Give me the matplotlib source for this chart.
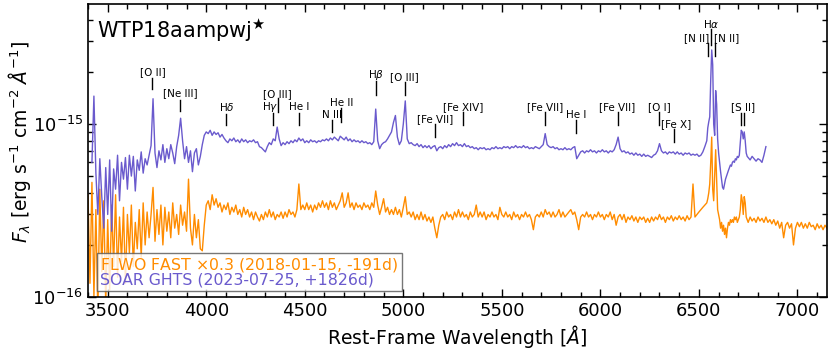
import numpy as np
import matplotlib
matplotlib.use("Agg")
import matplotlib.pyplot as plt
from matplotlib.ticker import MultipleLocator, LogLocator, NullFormatter

# ---------------- data (flux in units of 1e-16 erg/s/cm^2/A) ----------------
UNIT = 1e-16

# SOAR GHTS spectrum
soar_a_start, soar_a_step = 3420, 10
soar_a = [
    6.0, 14.5, 5.2, 3.0, 6.3, 3.8, 2.5, 5.6,
    3.0, 6.2, 2.4, 5.5, 4.2, 6.6, 3.6, 6.0, 4.8, 6.4,
    4.2, 6.6, 5.0, 6.5, 4.1, 6.2, 5.4, 6.9, 5.2, 6.3,
    5.8, 6.6, 7.5, 14.0, 6.8, 5.6, 7.0, 6.2, 7.6, 6.0,
    7.2, 6.3, 7.6, 6.8, 5.9, 7.4, 8.6, 10.8, 8.0, 6.3,
    7.4, 6.0, 7.0, 5.3, 6.8, 7.2, 5.8, 6.5, 7.6, 8.6,
    9.0, 8.8, 9.2, 8.6, 9.0, 8.7, 8.9, 8.4, 8.7, 8.3,
    8.0, 7.8, 8.2, 8.0, 8.3, 7.9, 8.1, 7.8, 8.2, 7.9,
    8.1, 7.8, 8.0, 7.9, 8.1, 7.8, 7.9, 7.4, 7.3, 7.1,
    6.9, 7.4, 7.8, 7.6, 8.2, 8.0, 9.6, 8.2, 7.5, 7.8,
    7.6, 7.9, 7.7, 8.0, 7.8, 8.1, 7.9, 8.3, 8.0, 8.2,
    7.8, 8.0, 7.8, 8.1, 7.9, 8.0, 7.8, 8.0, 7.9, 8.1,
    8.0, 8.2, 8.0, 8.3, 8.1, 8.4, 8.2, 8.0, 8.5, 8.3,
    8.1, 8.4, 8.0, 8.2, 7.9, 8.1, 7.9, 8.0, 7.8, 8.0,
    7.8, 7.9, 7.7, 7.8, 7.6, 7.9, 12.2, 8.0, 7.2, 7.6,
    7.8, 7.9, 8.2, 8.6, 9.0, 10.2, 11.2, 8.4, 7.6, 8.0,
    10.0, 13.6, 8.2, 7.7, 7.8, 7.6, 7.5, 7.7, 7.4, 7.6,
    7.3, 7.5, 7.3, 7.5, 7.2, 7.4, 7.5, 7.0, 7.3, 7.4,
    7.2, 7.5, 7.3, 7.6, 7.4, 7.7, 7.5, 7.8, 7.5, 7.6,
    7.4, 7.7, 7.4, 7.5, 7.3, 7.4, 7.2, 7.3, 7.1, 7.3,
    7.2, 7.3, 7.1, 7.2, 7.1, 7.3, 7.2, 7.4, 7.2, 7.3,
    7.2, 7.4, 7.3, 7.4, 7.2, 7.4, 7.3, 7.5, 7.3, 7.4,
    7.3, 7.5, 7.3, 7.4, 7.2, 7.3, 7.2, 7.4, 7.3, 7.2,
    7.4, 7.6, 8.8, 7.6, 7.4, 7.3, 7.4, 7.2, 7.3, 7.1,
    7.2, 7.1, 7.3, 7.1, 7.2, 7.1, 7.3, 7.4, 6.3, 6.6,
    6.9, 7.0, 6.8, 7.0, 6.9, 7.1, 6.9, 7.0, 6.8, 7.0,
    6.9, 7.1, 6.9, 7.0, 6.8, 7.0, 6.9, 7.1, 7.6, 8.4,
    7.2, 6.9, 7.0, 6.8, 6.9, 6.7, 6.8, 6.6, 6.8, 6.6,
    6.7, 6.5, 6.7, 6.5, 6.6, 6.5, 6.4, 6.6, 6.7, 7.0,
    7.7, 7.0, 6.8, 6.9, 6.7, 6.9, 6.8, 6.9, 6.7, 6.9,
    6.7, 6.8, 6.6, 6.8, 6.7, 6.8, 6.6, 6.7, 6.6, 6.7,
    6.5, 6.6, 6.9, 7.4,
]
soar_b_start, soar_b_step = 6540, 5
soar_b = [
    8.0, 9.5, 10.3, 11.0, 18.0, 26.8, 22.0, 10.0, 8.6, 15.6,
    13.0, 8.2, 6.8, 6.0, 5.3, 4.8, 4.3, 4.2, 4.5, 4.8,
    5.0, 5.2, 5.4, 5.6, 5.8, 5.7, 6.0, 6.1, 6.0, 6.3,
    6.2, 6.5, 6.4, 6.6, 7.8, 9.2, 9.0, 8.2, 9.0, 8.0,
    6.8, 6.5,
]
soar_c_start, soar_c_step = 6750, 10
soar_c = [6.4, 6.2, 6.5, 6.3, 6.1, 6.3, 6.2, 6.0, 6.6, 7.4]

# FLWO FAST spectrum (already multiplied by 0.3)
fast_a_start, fast_a_step = 3400, 10
fast_a = [
    3.9, 1.2, 4.6, 1.0, 3.2, 0.8, 4.2, 1.4, 3.6, 0.9,
    2.8, 1.1, 3.4, 1.5, 3.9, 1.3, 2.9, 1.6, 3.3, 1.2,
    3.0, 1.8, 3.4, 1.5, 2.7, 1.9, 3.2, 1.7, 3.5, 2.0,
    3.1, 2.2, 3.0, 4.3, 2.1, 3.2, 2.3, 3.4, 2.0, 3.3,
    2.4, 3.1, 2.2, 3.5, 2.5, 3.0, 2.3, 3.4, 2.6, 3.1,
    2.4, 4.8, 2.5, 2.0, 3.0, 2.2, 2.8, 1.9, 1.85, 2.6,
    3.4, 3.6, 3.2, 3.9, 3.4, 3.7, 3.3, 3.5, 3.1, 3.4,
    3.2, 3.5, 3.0, 3.3, 3.1, 3.4, 3.0, 3.2, 2.9, 3.3,
    3.0, 3.2, 2.9, 3.1, 2.8, 3.1, 2.9, 2.75, 3.0, 2.8,
    3.1, 2.9, 3.2, 2.9, 3.1, 2.8, 3.0, 2.9, 3.1, 2.85,
    3.1, 2.9, 3.2, 3.0, 3.1, 2.9, 3.2, 4.5, 3.2, 3.4,
    3.2, 3.5, 3.2, 3.4, 3.1, 3.4, 3.2, 3.5, 3.3, 3.6,
    3.3, 3.5, 3.2, 3.6, 3.3, 3.5, 3.2, 3.4, 3.6, 4.0,
    3.3, 3.5, 4.0, 3.3, 3.5, 3.2, 3.5, 3.3, 3.4, 3.2,
    3.5, 3.3, 3.4, 3.2, 3.5, 3.3, 4.1, 3.4, 3.0, 3.3,
    3.7, 3.1, 3.3, 3.0, 3.2, 3.0, 3.3, 3.0, 3.2, 2.9,
    3.3, 3.8, 3.0, 3.1, 2.9, 3.1, 2.8, 3.0, 2.8, 3.1,
    2.8, 3.0, 2.75, 2.9, 2.7, 2.9, 2.5, 2.2, 2.6, 2.9,
    3.0, 2.8, 3.1, 2.9, 3.0, 2.8, 3.1, 2.9, 3.2, 2.9,
    3.1, 2.9, 3.0, 2.8, 3.1, 2.9, 3.0, 3.4, 2.9, 3.1,
    2.9, 3.1, 2.8, 3.0, 2.9, 3.1, 2.9, 3.0, 2.8, 3.3,
    3.0, 2.9, 3.1, 2.9, 3.0, 2.8, 3.1, 2.9, 3.0, 2.8,
    3.0, 2.9, 3.1, 2.9, 3.0, 2.8, 2.45, 2.9, 3.0, 2.9,
    3.1, 2.9, 3.2, 3.0, 3.1, 2.9, 3.1, 2.9, 3.0, 3.2,
    2.9, 3.1, 2.9, 3.0, 3.1, 3.2, 3.0, 3.1, 2.8, 2.45,
    2.9, 3.0, 2.9, 3.1, 2.9, 3.0, 2.8, 3.0, 2.9, 3.1,
    2.9, 3.0, 2.8, 3.0, 2.9, 3.1, 2.8, 3.0, 2.6, 2.9,
    3.0, 2.8, 3.0, 2.7, 2.9, 2.8, 2.95, 2.75, 2.9, 2.7,
    2.9, 2.8, 2.9, 2.7, 2.85, 2.7, 2.9, 2.75, 2.9, 2.8,
    3.0, 2.8, 2.9, 2.7, 2.9, 2.8, 2.95, 2.75, 2.9, 2.8,
    2.95, 2.8, 2.9, 2.75, 2.95, 2.8, 2.9, 4.5, 2.9, 3.0,
    3.1, 3.2, 3.3, 3.4,
]
fast_b_start, fast_b_step = 6540, 5
fast_b = [
    3.5, 3.7, 4.0, 4.5, 6.0, 8.4, 4.2, 3.6, 5.0, 7.1,
    4.8, 3.2, 3.0, 2.8, 2.5, 2.7, 2.4, 2.6, 2.3, 2.5,
    2.2, 2.5, 2.7, 2.6, 2.8, 2.7, 2.8, 2.7, 2.9, 2.8,
    2.9, 2.7, 2.8, 2.9, 3.2, 3.9, 3.6, 3.0, 3.8, 3.5,
    2.9, 2.8,
]
fast_c_start, fast_c_step = 6750, 10
fast_c = [
    2.7, 2.9, 2.75, 2.85, 2.7, 2.9, 2.75, 2.85, 2.7, 2.9,
    2.7, 2.8, 2.65, 2.8, 2.6, 2.75, 2.5, 2.7, 2.2, 2.6,
    2.7, 2.5, 2.65, 2.0, 2.5, 2.7, 2.55, 2.7, 2.5, 2.65,
    2.5, 2.7, 2.55, 2.6, 2.45, 2.65, 2.5, 2.6, 2.45, 2.6,
    2.5,
]

# line identifications
line_labels = ['[O II]', '[Ne III]', r'H$\delta$', r'H$\gamma$', '[O III]', 'He I',
               'N III', 'He II', r'H$\beta$', '[O III]', '[Fe VII]', '[Fe XIV]',
               '[Fe VII]', 'He I', '[Fe VII]', '[O I]', '[Fe X]', r'H$\alpha$',
               '[N II]', '[N II]', '[S II]', '']
line_waves = [3727, 3869, 4102, 4340, 4363, 4471, 4640, 4686, 4861, 5007, 5159, 5303,
              5721, 5876, 6087, 6300, 6375, 6563, 6548, 6583, 6716, 6731]
label_waves = [3727, 3869, 4102, 4325, 4363, 4471, 4640, 4686, 4861, 5007, 5159, 5303,
               5721, 5876, 6087, 6300, 6385, 6563, 6552, 6579, 6724, 6731]
label_ha = ['center'] * 18 + ['right', 'left', 'center', 'center']
label_y = [20.0, 15.1, 12.5, 12.5, 14.9, 12.5, 11.3, 13.2, 19.2, 18.7, 10.7, 12.5,
           12.5, 11.3, 12.5, 12.5, 10.0, 37.8, 31.4, 31.4, 12.5, 12.5]
tick_hi = [18.45, 13.8, 11.4, 11.6, 14.1, 11.6, 10.55, 12.4, 17.7, 17.5, 10.0, 11.8,
           11.8, 10.55, 11.8, 11.8, 9.36, 35.4, 29.4, 29.4, 11.6, 11.6]
tick_lo = [15.9, 11.9, 9.87, 9.87, 11.7, 9.87, 8.99, 10.3, 14.7, 14.7, 8.4, 9.87,
           9.87, 8.87, 9.87, 9.87, 7.87, 28.5, 24.7, 24.7, 9.87, 9.87]

fast_label = 'FLWO FAST $\\times$0.3 (2018-01-15, -191d)'
soar_label = 'SOAR GHTS (2023-07-25, +1826d)'
object_name = r'WTP18aampwj$^{\bigstar}$'


def build(start, step, vals):
    return start + step * np.arange(len(vals))


soar_w = np.concatenate([build(soar_a_start, soar_a_step, soar_a),
                         build(soar_b_start, soar_b_step, soar_b),
                         build(soar_c_start, soar_c_step, soar_c)])
soar_f = np.concatenate([soar_a, soar_b, soar_c]) * UNIT
fast_w = np.concatenate([build(fast_a_start, fast_a_step, fast_a),
                         build(fast_b_start, fast_b_step, fast_b),
                         build(fast_c_start, fast_c_step, fast_c)])
fast_f = np.concatenate([fast_a, fast_b, fast_c]) * UNIT

# ---------------- plot ----------------
fig = plt.figure(figsize=(8.31, 3.52), dpi=100)
ax = fig.add_axes([88 / 831, 55 / 352, 739 / 831, 293 / 352])

orange = '#FF8C00'
purple = '#6A5ACD'
ax.plot(fast_w, fast_f, color=orange, lw=1.0, label=fast_label)
ax.plot(soar_w, soar_f, color=purple, lw=1.0, label=soar_label)

for lab, w, lw_, ha, ty, th, tl in zip(line_labels, line_waves, label_waves, label_ha,
                                       label_y, tick_hi, tick_lo):
    ax.plot([w, w], [tl * UNIT, th * UNIT], color='k', lw=1.0)
    if lab:
        ax.text(lw_, ty * UNIT, lab, ha=ha, va='center', fontsize=7.5)

ax.set_yscale('log')
ax.set_xlim(3400, 7150)
ax.set_ylim(1e-16, 4.94e-15)
ax.xaxis.set_major_locator(MultipleLocator(500))
ax.xaxis.set_minor_locator(MultipleLocator(100))
ax.yaxis.set_minor_locator(LogLocator(base=10, subs=np.arange(2, 10)))
ax.yaxis.set_minor_formatter(NullFormatter())
ax.tick_params(which='both', direction='in', top=True, right=True, labelsize=13)
ax.tick_params(which='major', length=5.5, width=1.0)
ax.tick_params(which='minor', length=3.5, width=1.0)
for s in ax.spines.values():
    s.set_linewidth(1.2)

ax.set_xlabel(r'Rest-Frame Wavelength [$Å$]', fontsize=13.5, labelpad=2)
ax.set_ylabel(r'$F_\lambda$ [erg s$^{-1}$ cm$^{-2}$ $Å^{-1}$]', fontsize=13.5)
ax.yaxis.set_label_coords(-0.074, 0.53)

ax.text(0.012, 0.91, object_name, transform=ax.transAxes, ha='left', va='center',
        fontsize=15)

leg = ax.legend(loc='lower left', bbox_to_anchor=(9 / 739, 6 / 293), borderaxespad=0,
                handlelength=0, handletextpad=0, labelcolor='linecolor', fontsize=11.3,
                fancybox=False, edgecolor='#555555', framealpha=0.8,
                labelspacing=-0.05, borderpad=0.2)
for h in leg.legend_handles:
    h.set_visible(False)

fig.savefig('out.png', dpi=100)
